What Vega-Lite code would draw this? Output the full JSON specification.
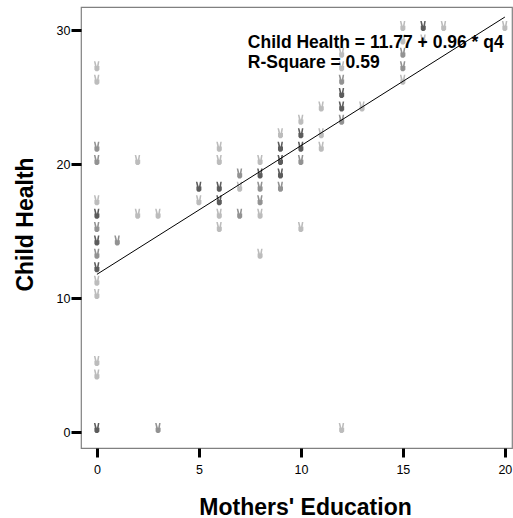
{
  "$schema": "https://vega.github.io/schema/vega-lite/v6.json",
  "autosize": {"type": "none"},
  "padding": {"left": 81, "top": 7, "right": 1, "bottom": 70},
  "width": 431,
  "height": 441,
  "background": "white",
  "config": {
    "view": {"stroke": "#808080", "strokeWidth": 1.2},
    "axis": {
      "domain": false, "grid": false, "tickColor": "black", "tickWidth": 3,
      "labelFont": "Liberation Sans", "labelFontSize": 12.5, "labelColor": "black",
      "titleFont": "Liberation Sans", "titleFontSize": 23, "titleFontWeight": "bold", "titleColor": "black"
    }
  },
  "datasets": {
    "pts": [
      {"q4": 0, "health": 27, "n": 1}, {"q4": 0, "health": 26, "n": 1}, {"q4": 0, "health": 21, "n": 2},
      {"q4": 0, "health": 20, "n": 2}, {"q4": 0, "health": 17, "n": 1}, {"q4": 0, "health": 16, "n": 3},
      {"q4": 0, "health": 15, "n": 2}, {"q4": 0, "health": 14, "n": 3}, {"q4": 0, "health": 13, "n": 2},
      {"q4": 0, "health": 12, "n": 3}, {"q4": 0, "health": 11, "n": 1}, {"q4": 0, "health": 10, "n": 1},
      {"q4": 0, "health": 5, "n": 1}, {"q4": 0, "health": 4, "n": 1}, {"q4": 0, "health": 0, "n": 3},
      {"q4": 1, "health": 14, "n": 2},
      {"q4": 2, "health": 20, "n": 1}, {"q4": 2, "health": 16, "n": 1},
      {"q4": 3, "health": 16, "n": 1}, {"q4": 3, "health": 0, "n": 2},
      {"q4": 5, "health": 18, "n": 3}, {"q4": 5, "health": 17, "n": 1},
      {"q4": 6, "health": 21, "n": 1}, {"q4": 6, "health": 20, "n": 1}, {"q4": 6, "health": 18, "n": 3},
      {"q4": 6, "health": 17, "n": 3}, {"q4": 6, "health": 16, "n": 1}, {"q4": 6, "health": 15, "n": 1},
      {"q4": 7, "health": 19, "n": 2}, {"q4": 7, "health": 18, "n": 1}, {"q4": 7, "health": 16, "n": 2},
      {"q4": 8, "health": 20, "n": 1}, {"q4": 8, "health": 19, "n": 3}, {"q4": 8, "health": 18, "n": 2},
      {"q4": 8, "health": 17, "n": 2}, {"q4": 8, "health": 16, "n": 1}, {"q4": 8, "health": 13, "n": 1},
      {"q4": 9, "health": 22, "n": 1}, {"q4": 9, "health": 21, "n": 3}, {"q4": 9, "health": 20, "n": 3},
      {"q4": 9, "health": 19, "n": 3}, {"q4": 9, "health": 18, "n": 2},
      {"q4": 10, "health": 23, "n": 1}, {"q4": 10, "health": 22, "n": 3}, {"q4": 10, "health": 21, "n": 3},
      {"q4": 10, "health": 20, "n": 2}, {"q4": 10, "health": 15, "n": 1},
      {"q4": 11, "health": 24, "n": 1}, {"q4": 11, "health": 22, "n": 1}, {"q4": 11, "health": 21, "n": 1},
      {"q4": 12, "health": 28, "n": 1}, {"q4": 12, "health": 27, "n": 1}, {"q4": 12, "health": 26, "n": 2},
      {"q4": 12, "health": 25, "n": 3}, {"q4": 12, "health": 24, "n": 3}, {"q4": 12, "health": 23, "n": 2},
      {"q4": 12, "health": 0, "n": 1},
      {"q4": 13, "health": 24, "n": 1},
      {"q4": 15, "health": 30, "n": 1}, {"q4": 15, "health": 29, "n": 1}, {"q4": 15, "health": 28, "n": 2},
      {"q4": 15, "health": 27, "n": 2}, {"q4": 15, "health": 26, "n": 1},
      {"q4": 16, "health": 30, "n": 3}, {"q4": 16, "health": 29, "n": 1},
      {"q4": 17, "health": 30, "n": 1},
      {"q4": 20, "health": 30, "n": 1}
    ],
    "fit": [
      {"q4": 0, "health": 11.77},
      {"q4": 20, "health": 30.97}
    ],
    "notes": [
      {"q4": 7.4, "health": 28.66, "label": "Child Health = 11.77 + 0.96 * q4"},
      {"q4": 7.4, "health": 27.16, "label": "R-Square = 0.59"}
    ]
  },
  "encoding": {
    "x": {
      "field": "q4", "type": "quantitative", "title": "Mothers' Education",
      "scale": {"domain": [-0.78, 20.35], "nice": false, "zero": false},
      "axis": {"values": [0, 5, 10, 15, 20], "tickSize": 9, "labelPadding": 6,
               "titleX": 224, "titleY": 66, "titleAlign": "center", "titleBaseline": "alphabetic"}
    },
    "y": {
      "field": "health", "type": "quantitative", "title": "Child Health",
      "scale": {"domain": [-1.19, 31.72], "nice": false, "zero": false},
      "axis": {"values": [0, 10, 20, 30], "tickSize": 10, "labelPadding": 1,
               "titleX": -49, "titleY": 217, "titleAlign": "center", "titleBaseline": "alphabetic", "titleAngle": -90}
    }
  },
  "layer": [
    {
      "data": {"name": "pts"},
      "mark": {
        "type": "point", "filled": true, "opacity": 1, "size": 100, "yOffset": -4,
        "shape": "M-0.6,-1 L-0.3,-1 L-0.05,-0.05 L-0.4,-0.05 Z M0.2,-1 L0.5,-1 L0.35,-0.05 L0.02,-0.05 Z M-0.5,-0.05 L0.5,-0.05 L0.5,0.7 L0.2,1 L-0.25,1 L-0.5,0.7 Z"
      },
      "encoding": {
        "color": {"field": "n", "type": "ordinal", "legend": null,
                  "scale": {"domain": [1, 2, 3], "range": ["#bcbcbc", "#929292", "#5c5c5c"]}}
      }
    },
    {
      "data": {"name": "fit"},
      "mark": {"type": "line", "color": "black", "strokeWidth": 1},
      "encoding": {}
    },
    {
      "data": {"name": "notes"},
      "mark": {"type": "text", "align": "left", "baseline": "alphabetic", "font": "Liberation Sans", "fontSize": 17.5, "fontWeight": "bold", "color": "black"},
      "encoding": {"text": {"field": "label"}}
    }
  ]
}
